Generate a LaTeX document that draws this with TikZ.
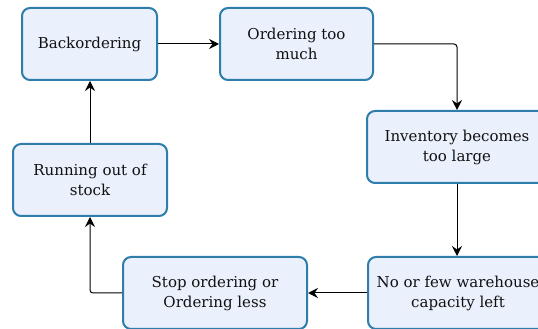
\documentclass[tikz,border=0pt]{standalone}
\usepackage{fontspec}
\setmainfont{DejaVu Serif}
\usetikzlibrary{arrows.meta}
\definecolor{pcFFFFFF}{HTML}{FFFFFF}
\definecolor{pcEAF0FC}{HTML}{EAF0FC}
\definecolor{pc2E7DAA}{HTML}{2E7DAA}
\definecolor{pc111111}{HTML}{111111}
\definecolor{pc000000}{HTML}{000000}

\tikzset{
  stepbox/.style={draw=pc2E7DAA, fill=pcEAF0FC, line width=2.000bp, rounded corners=8.000bp,
    align=center, text=pc111111, inner sep=0, font=\fontsize{15.000bp}{20.000bp}\selectfont},
  flow/.style={draw=pc000000, line width=1.000bp, rounded corners=3.000bp,
    -{Stealth[length=10.000bp, width=10.000bp, inset=3.500bp]}},
}

\begin{document}
\begin{tikzpicture}
\path[use as bounding box] (0bp,0bp) rectangle (538.000bp,329.000bp);
\path[fill=pcFFFFFF] (0.000bp,0.000bp) rectangle (538.000bp,329.000bp);
\begin{scope}
\clip (0bp,0bp) rectangle (538.000bp,329.000bp);
\node[stepbox, minimum width=135.000bp, minimum height=72.000bp] (backorder) at (89.500bp,285.000bp) {Backordering};
\node[stepbox, minimum width=153.000bp, minimum height=72.000bp] (overorder) at (296.500bp,285.000bp) {Ordering too\\much};
\node[stepbox, minimum width=180.000bp, minimum height=72.000bp] (inventory) at (457.000bp,182.000bp) {Inventory becomes\\too large};
\node[stepbox, minimum width=180.000bp, minimum height=72.000bp] (warehouse) at (458.000bp,36.000bp) {No or few warehouse\\capacity left};
\node[stepbox, minimum width=184.000bp, minimum height=72.000bp] (stoporder) at (215.000bp,36.000bp) {Stop ordering or\\Ordering less};
\node[stepbox, minimum width=154.000bp, minimum height=72.000bp] (outofstock) at (90.000bp,149.000bp) {Running out of\\stock};
\end{scope}
\draw[flow] (backorder.east) -- (overorder.west);
\draw[flow] (overorder.east) -| (inventory.north);
\draw[flow] (inventory.south) -- (inventory.south |- warehouse.north);
\draw[flow] (warehouse.west) -- (stoporder.east);
\draw[flow] (stoporder.west) -| (outofstock.south);
\draw[flow] (outofstock.north) -- (outofstock.north |- backorder.south);
\end{tikzpicture}
\end{document}
